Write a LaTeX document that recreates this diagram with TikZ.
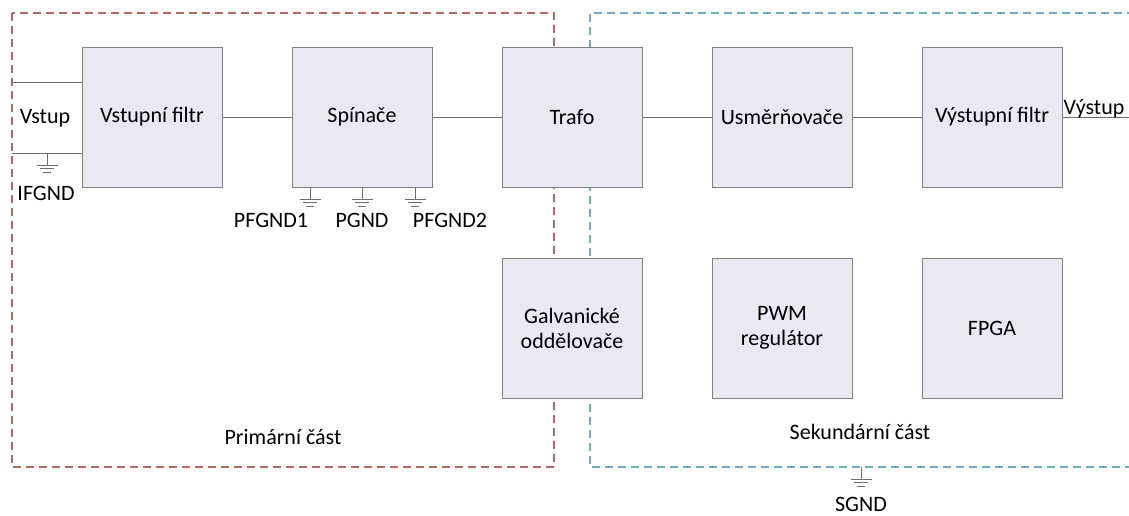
\documentclass[tikz,border=0pt]{standalone}
\usepackage{fontspec}
\setmainfont{Carlito}
\definecolor{boxfill}{RGB}{234,232,240}
\definecolor{boxline}{RGB}{128,128,128}
\definecolor{wire}{RGB}{110,110,110}
\definecolor{primred}{RGB}{184,104,100}
\definecolor{secblue}{RGB}{110,174,196}
\tikzset{
  block/.style={draw=boxline, fill=boxfill, line width=1pt, minimum width=140pt,
    minimum height=140pt, inner sep=0pt, align=center, font=\fontsize{22}{25}\selectfont},
  lbl/.style={inner sep=1pt, font=\fontsize{22}{25}\selectfont, text=black},
  wireline/.style={draw=wire, line width=0.9pt},
  zone/.style={line width=1.6pt, dash pattern=on 8pt off 5pt},
  pics/gnd/.style={code={
    \draw[wireline] (0,0) -- (0,12);
    \draw[wireline] (-10.5,12) -- (10.5,12);
    \draw[wireline] (-7,15.5) -- (7,15.5);
    \draw[wireline] (-4,19) -- (4,19);
  }}
}
\begin{document}
\begin{tikzpicture}[x=1pt, y=-1pt]
\useasboundingbox (0,0) rectangle (1129,515);
\fill[white] (0,0) rectangle (1129,515);

% primary and secondary zones
\draw[zone, primred] (12,13) rectangle (554,467);
\draw[zone, secblue] (1135,13) -- (590,13) -- (590,467) -- (1135,467);

% blocks
\node[block] (vf)   at (152,117) {Vstupní filtr};
\node[block] (sp)   at (362,117) {Spínače};
\node[block] (tr)   at (572,117) {Trafo};
\node[block] (us)   at (782,117) {Usměrňovače};
\node[block] (vyf)  at (992,117) {Výstupní filtr};
\node[block] (gal)  at (572,328) {Galvanické\\oddělovače};
\node[block] (pwm)  at (782,328) {PWM\\regulátor};
\node[block] (fpga) at (992,328) {FPGA};

% input terminals
\coordinate (inA) at (12,82);
\coordinate (inB) at (12,153);
\draw[wireline] (inA) -- (inA -| vf.west);
\draw[wireline] (inB) -- (inB -| vf.west);
\node[lbl] (vstup) at (45,118) {Vstup};
\pic at (47,153) {gnd};
\node[lbl] (ifgnd) at (46,193) {IFGND};

% signal chain
\draw[wireline] (vf) -- (sp);
\draw[wireline] (sp) -- (tr);
\draw[wireline] (tr) -- (us);
\draw[wireline] (us) -- (vyf);
\coordinate (out) at (1129,117);
\draw[wireline] (vyf.east) -- (out);
\node[lbl, anchor=south west] (vystup) at ([yshift=-2pt]vyf.east) {Výstup};

% switch grounds
\pic at (310,187) {gnd};
\pic at (362,187) {gnd};
\pic at (415,187) {gnd};
\node[lbl] (pfg1) at (271,220) {PFGND1};
\node[lbl] (pg)   at (362,220) {PGND};
\node[lbl] (pfg2) at (450,220) {PFGND2};

% zone labels
\node[lbl] (prim) at (283,437) {Primární část};
\node[lbl] (sek)  at (860,432) {Sekundární část};
\pic at (861,467) {gnd};
\node[lbl] (sgnd) at (861,504) {SGND};
\end{tikzpicture}
\end{document}
